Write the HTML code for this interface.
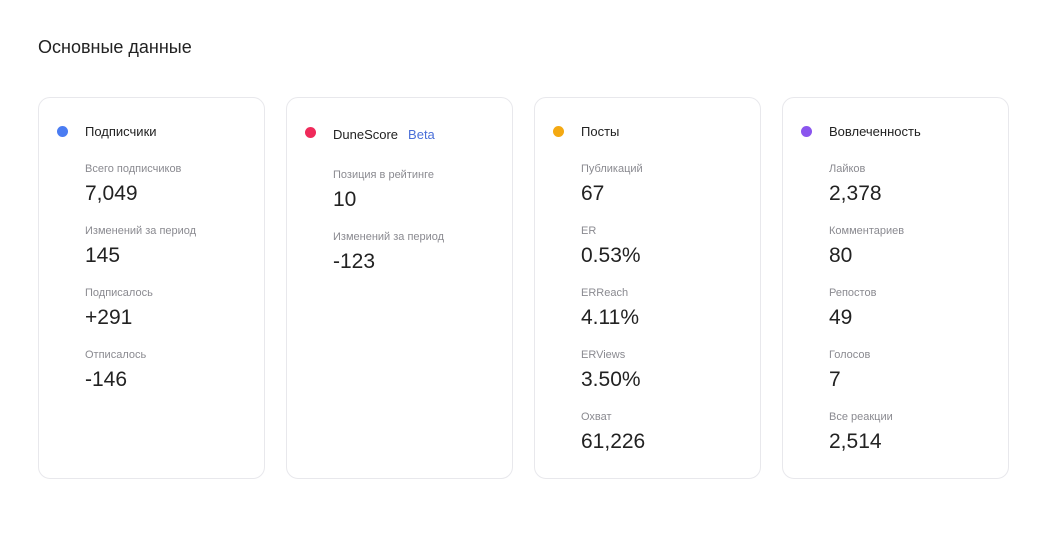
<!DOCTYPE html>
<html><head><meta charset="utf-8"><style>
body{margin:0;width:1056px;height:534px;background:#fff;font-family:"Liberation Sans","DejaVu Sans",sans-serif;color:#222;position:relative;overflow:hidden}
h1{position:absolute;left:38px;top:35px;margin:0;font-size:18px;font-weight:normal;line-height:24px;color:#222}
.card{position:absolute;top:97px;width:225px;height:380px;border:1px solid #e8e8ec;border-radius:12px;box-sizing:content-box}
.dot{position:absolute;left:18px;width:11px;height:11px;border-radius:50%}
.t{position:absolute;left:46px;font-size:13px;line-height:16px;color:#222}
.l{position:absolute;left:46px;font-size:11px;line-height:14px;color:#8a8a90}
.v{position:absolute;left:46px;font-size:21px;line-height:26px;color:#222}
.beta{color:#4a6fd8;margin-left:10px}
</style></head><body>
<h1>Основные данные</h1>
<div class="card" style="left:38px">
<div class="dot" style="background:#4a7cf2;top:28px"></div>
<div class="t" style="top:26px">Подписчики</div>
<div class="l" style="top:64px">Всего подписчиков</div><div class="v" style="top:83px">7,049</div>
<div class="l" style="top:126px">Изменений за период</div><div class="v" style="top:145px">145</div>
<div class="l" style="top:188px">Подписалось</div><div class="v" style="top:207px">+291</div>
<div class="l" style="top:250px">Отписалось</div><div class="v" style="top:269px">-146</div>
</div>
<div class="card" style="left:286px">
<div class="dot" style="background:#ef2a5a;top:29px"></div>
<div class="t" style="top:29px">DuneScore<span class="beta">Beta</span></div>
<div class="l" style="top:70px">Позиция в рейтинге</div><div class="v" style="top:89px">10</div>
<div class="l" style="top:132px">Изменений за период</div><div class="v" style="top:151px">-123</div>
</div>
<div class="card" style="left:534px">
<div class="dot" style="background:#f4a912;top:28px"></div>
<div class="t" style="top:26px">Посты</div>
<div class="l" style="top:64px">Публикаций</div><div class="v" style="top:83px">67</div>
<div class="l" style="top:126px">ER</div><div class="v" style="top:145px">0.53%</div>
<div class="l" style="top:188px">ERReach</div><div class="v" style="top:207px">4.11%</div>
<div class="l" style="top:250px">ERViews</div><div class="v" style="top:269px">3.50%</div>
<div class="l" style="top:312px">Охват</div><div class="v" style="top:331px">61,226</div>
</div>
<div class="card" style="left:782px">
<div class="dot" style="background:#8a55ee;top:28px"></div>
<div class="t" style="top:26px">Вовлеченность</div>
<div class="l" style="top:64px">Лайков</div><div class="v" style="top:83px">2,378</div>
<div class="l" style="top:126px">Комментариев</div><div class="v" style="top:145px">80</div>
<div class="l" style="top:188px">Репостов</div><div class="v" style="top:207px">49</div>
<div class="l" style="top:250px">Голосов</div><div class="v" style="top:269px">7</div>
<div class="l" style="top:312px">Все реакции</div><div class="v" style="top:331px">2,514</div>
</div>
</body></html>
